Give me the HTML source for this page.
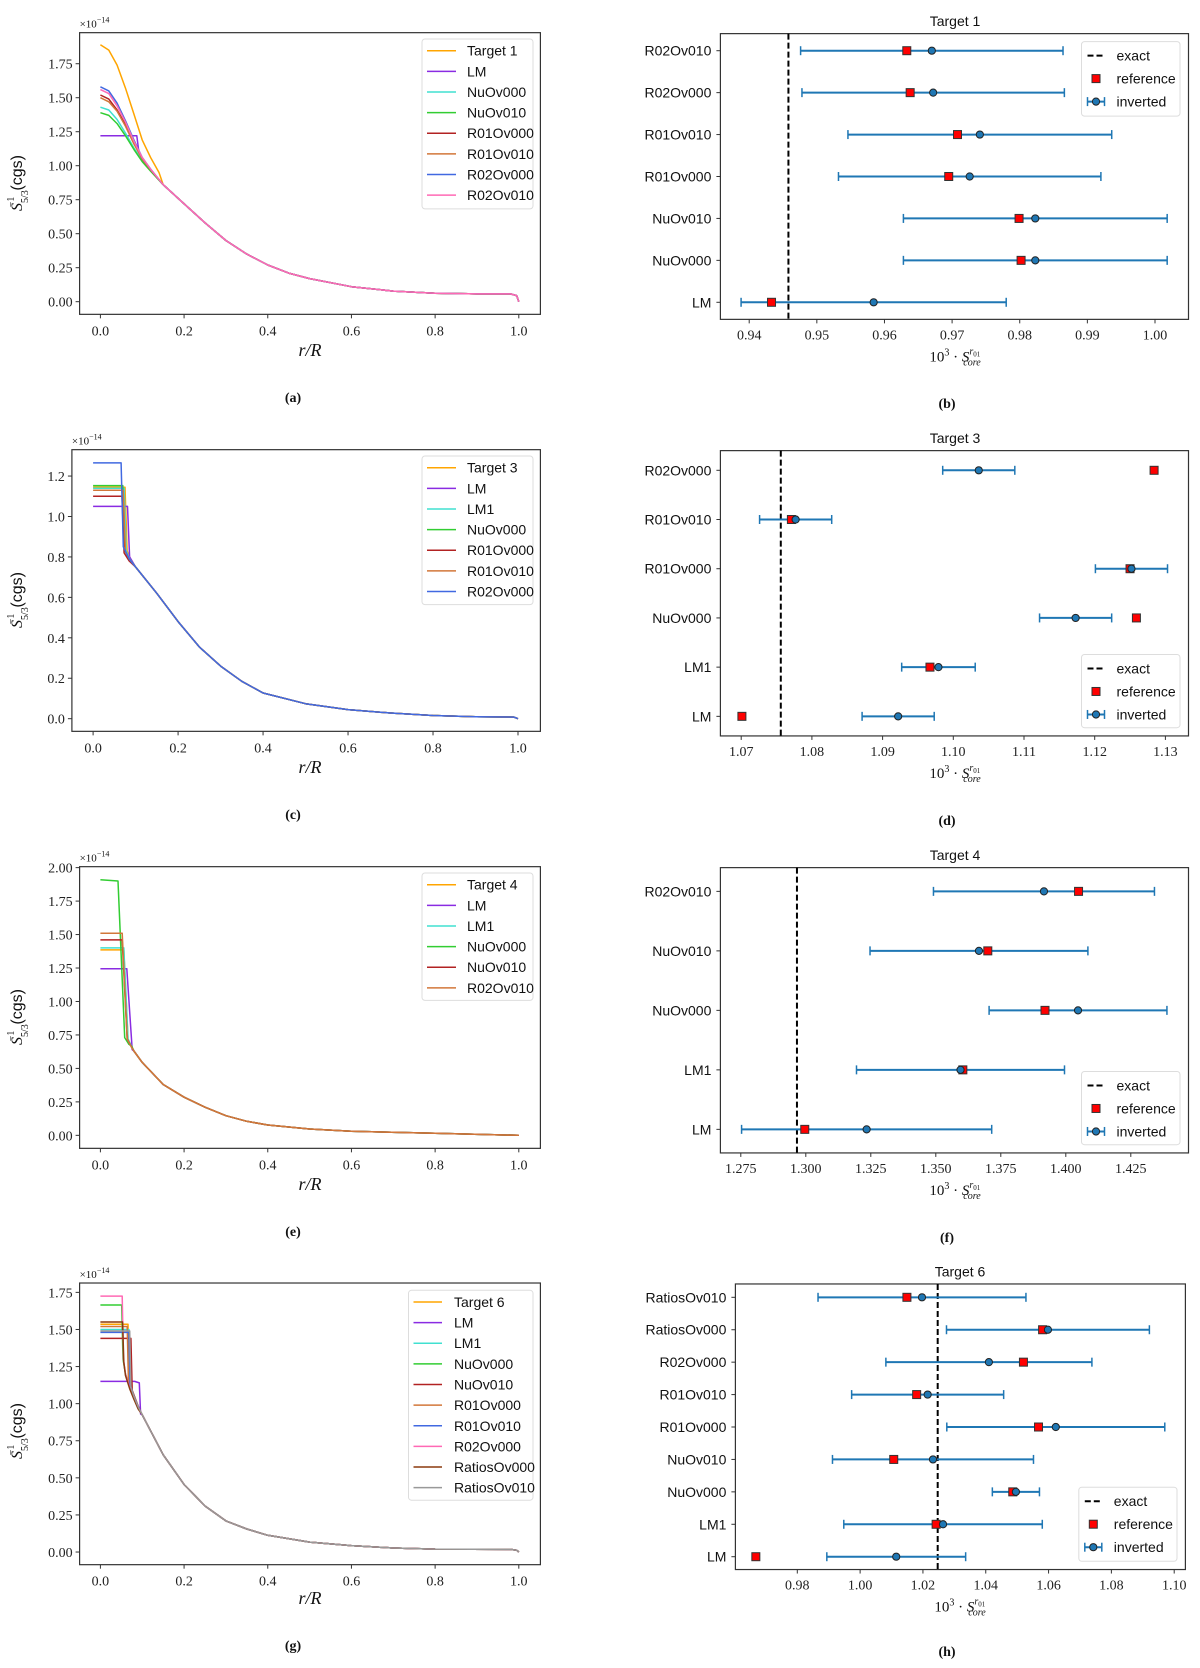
<!DOCTYPE html>
<html><head><meta charset="utf-8">
<style>
html,body{margin:0;padding:0;background:#fff;}
svg{display:block;}
.tick{font-family:"Liberation Serif",serif;font-size:14px;fill:#222;}
.sans{font-family:"Liberation Sans",sans-serif;font-size:14px;fill:#111;}
.lab{font-family:"Liberation Serif",serif;fill:#111;}
</style></head>
<body>
<svg id="fig" width="1200" height="1668" viewBox="0 0 1200 1668" xmlns="http://www.w3.org/2000/svg"></svg>
<script>
// ---------- Panel (a) data ----------
const aNames=['Target 1','LM','NuOv000','NuOv010','R01Ov000','R01Ov010','R02Ov000','R02Ov010'];
const aTailR=[0.15,0.2,0.25,0.3,0.35,0.4,0.45,0.5,0.6,0.7,0.8,0.9,0.98,0.995,1.0];
const aTailV=[0.86,0.72,0.58,0.45,0.35,0.27,0.21,0.17,0.11,0.078,0.062,0.057,0.057,0.045,0.0];
const aCoreR=[[0,0.02,0.04,0.06,0.08,0.10,0.12,0.14],[0,0.087,0.092,0.1,0.12],[0,0.02,0.04,0.06,0.08,0.10,0.12],[0,0.02,0.04,0.06,0.08,0.10,0.12],[0,0.02,0.04,0.06,0.08,0.10,0.12],[0,0.02,0.04,0.06,0.08,0.10,0.12],[0,0.02,0.04,0.06,0.08,0.10,0.12],[0,0.02,0.04,0.06,0.08,0.10,0.12]];
const aCoreV=[[1.89,1.85,1.74,1.57,1.38,1.19,1.06,0.95],[1.22,1.22,1.10,1.04,0.97],[1.43,1.41,1.34,1.24,1.13,1.04,0.965],[1.39,1.37,1.31,1.22,1.12,1.03,0.96],[1.52,1.49,1.41,1.30,1.17,1.05,0.97],[1.50,1.47,1.40,1.29,1.16,1.05,0.97],[1.58,1.55,1.46,1.33,1.19,1.06,0.975],[1.56,1.53,1.44,1.32,1.18,1.06,0.975]];
const aYTicks=[0,0.25,0.5,0.75,1.0,1.25,1.5,1.75];
const aYLabels=['0.00','0.25','0.50','0.75','1.00','1.25','1.50','1.75'];
// ---------- Panel (c) data ----------
const cNames=['Target 3','LM','LM1','NuOv000','R01Ov000','R01Ov010','R02Ov000'];
const cTailR=[0.1,0.15,0.2,0.25,0.3,0.35,0.4,0.5,0.6,0.7,0.8,0.9,0.99,1.0];
const cTailV=[0.75,0.62,0.48,0.355,0.26,0.185,0.127,0.074,0.045,0.028,0.016,0.01,0.008,0];
const cCoreR=[[0,0.075,0.08,0.088],[0,0.081,0.086],[0,0.073,0.078,0.086],[0,0.07,0.075,0.085],[0,0.068,0.073,0.085],[0,0.071,0.076,0.085],[0,0.066,0.071,0.085]];
const cCoreV=[[1.145,1.145,0.83,0.79],[1.05,1.05,0.80],[1.14,1.14,0.83,0.79],[1.153,1.153,0.83,0.79],[1.10,1.10,0.82,0.78],[1.13,1.13,0.83,0.79],[1.265,1.265,0.85,0.79]];
const cYTicks=[0,0.2,0.4,0.6,0.8,1.0,1.2];
const cYLabels=['0.0','0.2','0.4','0.6','0.8','1.0','1.2'];
// ---------- Panel (e) data ----------
const eNames=['Target 4','LM','LM1','NuOv000','NuOv010','R02Ov010'];
const eTailR=[0.08,0.1,0.15,0.2,0.25,0.3,0.35,0.4,0.5,0.6,0.8,1.0];
const eTailV=[0.63,0.545,0.38,0.285,0.21,0.147,0.105,0.077,0.047,0.03,0.015,0.0];
const eCoreR=[[0,0.056,0.066,0.075],[0,0.063,0.076],[0,0.056,0.066,0.075],[0,0.042,0.058,0.068,0.075],[0,0.052,0.064,0.075],[0,0.052,0.064,0.075]];
const eCoreV=[[1.385,1.385,0.72,0.66],[1.245,1.245,0.64],[1.40,1.40,0.72,0.66],[1.91,1.90,0.73,0.68,0.665],[1.46,1.46,0.72,0.655],[1.51,1.51,0.72,0.655]];
const eYTicks=[0,0.25,0.5,0.75,1.0,1.25,1.5,1.75,2.0];
const eYLabels=['0.00','0.25','0.50','0.75','1.00','1.25','1.50','1.75','2.00'];
// ---------- Panel (g) data ----------
const gNames=['Target 6','LM','LM1','NuOv000','NuOv010','R01Ov000','R01Ov010','R02Ov000','RatiosOv000','RatiosOv010'];
const gTailR=[0.1,0.15,0.2,0.25,0.3,0.35,0.4,0.5,0.6,0.7,0.8,0.98,0.995,1.0];
const gTailV=[0.925,0.655,0.455,0.31,0.21,0.155,0.113,0.067,0.043,0.027,0.02,0.018,0.012,0];
const gCoreR=[[0,0.066,0.069,0.08,0.09],[0,0.082,0.093,0.096],[0,0.068,0.071,0.08,0.09],[0,0.051,0.054,0.06,0.07,0.08,0.09],[0,0.073,0.076,0.09],[0,0.064,0.067,0.08,0.09],[0,0.068,0.071,0.08,0.09],[0,0.052,0.055,0.06,0.07,0.08,0.09],[0,0.053,0.056,0.06,0.07,0.08,0.09],[0,0.07,0.073,0.08,0.09]];
const gCoreV=[[1.535,1.535,1.15,1.05,0.98],[1.15,1.15,1.14,0.93],[1.50,1.50,1.13,1.05,0.98],[1.665,1.665,1.3,1.2,1.11,1.04,0.975],[1.44,1.44,1.09,0.985],[1.52,1.52,1.16,1.05,0.98],[1.48,1.48,1.13,1.05,0.98],[1.725,1.725,1.3,1.2,1.11,1.04,0.975],[1.55,1.55,1.28,1.19,1.1,1.03,0.965],[1.49,1.49,1.11,1.05,0.98]];
const gYTicks=[0,0.25,0.5,0.75,1.0,1.25,1.5,1.75];
const gYLabels=['0.00','0.25','0.50','0.75','1.00','1.25','1.50','1.75'];
const rTicks=[0,0.2,0.4,0.6,0.8,1.0];
const rLabels=['0.0','0.2','0.4','0.6','0.8','1.0'];
// ---------- Panel (b) data ----------
const bRows=['LM','NuOv000','NuOv010','R01Ov000','R01Ov010','R02Ov000','R02Ov010'];
const bRef=[0.9433,0.9802,0.9799,0.9695,0.9708,0.9638,0.9633];
const bInv=[0.9584,0.9823,0.9823,0.9726,0.9741,0.9672,0.9670];
const bErr=[0.0196,0.0195,0.0195,0.0194,0.0195,0.0194,0.0194];
const bExact=0.9458;
const bTicks=[0.94,0.95,0.96,0.97,0.98,0.99,1.00];
const bLabels=['0.94','0.95','0.96','0.97','0.98','0.99','1.00'];
// ---------- Panel (d) data ----------
const dRows=['LM','LM1','NuOv000','R01Ov000','R01Ov010','R02Ov000'];
const dRef=[1.0701,1.0967,1.1259,1.1250,1.0771,1.1284];
const dInv=[1.0922,1.0979,1.1173,1.1252,1.0777,1.1036];
const dErr=[0.0051,0.0052,0.0051,0.0051,0.0051,0.0051];
const dExact=1.0756;
const dTicks=[1.07,1.08,1.09,1.10,1.11,1.12,1.13];
const dLabels=['1.07','1.08','1.09','1.10','1.11','1.12','1.13'];
// ---------- Panel (f) data ----------
const fRows=['LM','LM1','NuOv000','NuOv010','R02Ov010'];
const fRef=[1.2996,1.3604,1.3920,1.3700,1.4049];
const fInv=[1.3234,1.3595,1.4047,1.3666,1.3916];
const fErr=[0.0481,0.0400,0.0342,0.0419,0.0425];
const fExact=1.2966;
const fTicks=[1.275,1.3,1.325,1.35,1.375,1.4,1.425];
const fLabels=['1.275','1.300','1.325','1.350','1.375','1.400','1.425'];
// ---------- Panel (h) data ----------
const hRows=['LM','LM1','NuOv000','NuOv010','R01Ov000','R01Ov010','R02Ov000','RatiosOv000','RatiosOv010'];
const hRef=[0.9668,1.0242,1.0486,1.0107,1.0568,1.0180,1.0520,1.0581,1.0149];
const hInv=[1.0115,1.0264,1.0496,1.0232,1.0623,1.0215,1.0410,1.0598,1.0197];
const hErr=[0.0221,0.0316,0.0075,0.0320,0.0347,0.0242,0.0328,0.0323,0.0331];
const hExact=1.0247;
const hTicks=[0.98,1.00,1.02,1.04,1.06,1.08,1.10];
const hLabels=['0.98','1.00','1.02','1.04','1.06','1.08','1.10'];

const colors=['#ffa500','#8a2be2','#40e0d0','#32cd32','#b22222','#d2773a','#4169e1','#ff69b4','#8b3a0f','#999999'];
const S=2.6/3; // vertical scale of layout constants
const NS='http://www.w3.org/2000/svg';
const svg=document.getElementById('fig');
function mk(tag,attrs,parent){const e=document.createElementNS(NS,tag);for(const k in attrs)e.setAttribute(k,attrs[k]);(parent||svg).appendChild(e);return e;}
function txt(s,attrs,parent){const e=mk('text',attrs,parent);e.textContent=s;return e;}

function leftPanel(cfg){
  const g=mk('g',{});
  
  
  const oy=cfg.oy;
  const X=r=>cfg.x0+r*cfg.xk;
  const Y=v=>oy+S*(cfg.y0-v*cfg.yk);
  const fy0=oy+S*cfg.fy0, fy1=oy+S*cfg.fy1;
  for(let i=0;i<cfg.names.length;i++){
    const R=cfg.coreR[i].concat(cfg.tailR), V=cfg.coreV[i].concat(cfg.tailV);
    const pts=R.map((r,j)=>X(r).toFixed(1)+','+Y(V[j]).toFixed(1)).join(' ');
    const pl=mk('polyline',{points:pts,fill:'none',stroke:colors[i],'stroke-width':1.5,'stroke-linejoin':'round'},g);
    
    
  }
  const fr=mk('rect',{x:cfg.fx0,y:fy0,width:cfg.fx1-cfg.fx0,height:fy1-fy0,fill:'none',stroke:'#333','stroke-width':1.2},g);
  
  
  cfg.yt.forEach((v,i)=>{
    mk('line',{x1:cfg.fx0-4,x2:cfg.fx0,y1:Y(v),y2:Y(v),stroke:'#333','stroke-width':1},g);
    const t=txt(cfg.yl[i],{x:cfg.fx0-7,y:Y(v)+5,'text-anchor':'end',class:'tick'},g);
    
    
  });
  rTicks.forEach((r,i)=>{
    mk('line',{x1:X(r),x2:X(r),y1:fy1,y2:fy1+4,stroke:'#333','stroke-width':1},g);
    const t=txt(rLabels[i],{x:X(r),y:fy1+21,'text-anchor':'middle',class:'tick'},g);
    
    
  });
  const off=txt('',{x:cfg.fx0,y:fy0-5,class:'lab','font-size':'11'},g);
  off.innerHTML='×10<tspan dy="-5" font-size="8">−14</tspan>';
  
  
  const yl=txt('',{transform:`translate(22,${oy+183}) rotate(-90)`,'text-anchor':'middle',class:'lab','font-size':'16'},g);
  yl.innerHTML='<tspan font-style="italic">S</tspan><tspan dy="6" font-size="10">5/3</tspan><tspan dy="-14" dx="-17" font-size="10">−1</tspan><tspan dy="8" dx="6" font-family="Liberation Sans, sans-serif">(cgs)</tspan>';
  
  
  const xl=txt('r/R',{x:310,y:oy+356,'text-anchor':'middle',class:'lab','font-size':'18','font-style':'italic'},g);
  
  
  const L=cfg.leg;
  const lg=mk('g',{},g);
  
  
  mk('rect',{x:L.x0,y:oy+S*L.y0,width:L.x1-L.x0,height:S*(L.y1-L.y0),rx:3,fill:'#fff',stroke:'#ddd','stroke-width':1},lg);
  cfg.names.forEach((n,i)=>{
    const yy=oy+S*(L.e0+i*23.8);
    mk('line',{x1:L.h0,x2:L.h1,y1:yy,y2:yy,stroke:colors[i],'stroke-width':1.5},lg);
    const t=txt(n,{x:L.tx,y:yy+5,class:'sans','font-size':'13.5'},lg);
    
    
  });
  const pl=txt(cfg.label,{x:293,y:oy+402,'text-anchor':'middle',class:'lab','font-size':'14','font-weight':'bold'},g);
  
  
}

function rightPanel(cfg){
  const g=mk('g',{});
  
  
  const oy=cfg.oy;
  const X=v=>cfg.xa+(v-cfg.va)*(cfg.xb-cfg.xa)/(cfg.vb-cfg.va);
  const n=cfg.rows.length;
  const Yr=i=>oy+S*(cfg.yBot-i*(cfg.yBot-cfg.yTop)/(n-1));
  const fy0=oy+S*cfg.fy0, fy1=oy+S*cfg.fy1;
  mk('rect',{x:cfg.fx0,y:fy0,width:cfg.fx1-cfg.fx0,height:fy1-fy0,fill:'none',stroke:'#333','stroke-width':1.2},g);
  const ex=mk('line',{x1:X(cfg.exact),x2:X(cfg.exact),y1:fy0,y2:fy1,stroke:'#000','stroke-width':2,'stroke-dasharray':'6,3'},g);
  
  
  cfg.rows.forEach((r,i)=>{
    const y=Yr(i);
    mk('line',{x1:cfg.fx0-4,x2:cfg.fx0,y1:y,y2:y,stroke:'#333','stroke-width':1},g);
    const t=txt(r,{x:cfg.fx0-9,y:y+5,'text-anchor':'end',class:'sans'},g);
    
    
    const lo=X(cfg.inv[i]-cfg.err[i]), hi=X(cfg.inv[i]+cfg.err[i]);
    const eb=mk('g',{},g);
    
    
    mk('line',{x1:lo,x2:hi,y1:y,y2:y,stroke:'#1f77b4','stroke-width':2},eb);
    mk('line',{x1:lo,x2:lo,y1:y-4.5,y2:y+4.5,stroke:'#1f77b4','stroke-width':1.5},eb);
    mk('line',{x1:hi,x2:hi,y1:y-4.5,y2:y+4.5,stroke:'#1f77b4','stroke-width':1.5},eb);
    const sq=mk('rect',{x:X(cfg.ref[i])-4,y:y-4,width:8,height:8,fill:'#f00',stroke:'#333','stroke-width':1},g);
    
    
    const c=mk('circle',{cx:X(cfg.inv[i]),cy:y,r:3.6,fill:'#1f77b4',stroke:'#222','stroke-width':1},g);
    
    
  });
  cfg.ticks.forEach((v,i)=>{
    mk('line',{x1:X(v),x2:X(v),y1:fy1,y2:fy1+4,stroke:'#333','stroke-width':1},g);
    const t=txt(cfg.labels[i],{x:X(v),y:fy1+20,'text-anchor':'middle',class:'tick'},g);
    
    
  });
  const tt=txt(cfg.title,{x:cfg.tx,y:oy+S*cfg.ty,'text-anchor':'middle',class:'sans','font-size':'15'},g);
  
  
  const xl=txt('',{x:cfg.tx,y:fy1+42,'text-anchor':'middle',class:'lab','font-size':'15'},g);
  xl.innerHTML='10<tspan dy="-6" font-size="10">3</tspan><tspan dy="6"> · </tspan><tspan font-style="italic">S</tspan><tspan dy="-7" font-size="10" font-style="italic">r</tspan><tspan dy="2" font-size="7">01</tspan><tspan dy="9" dx="-17" font-size="10" font-style="italic">core</tspan>';
  
  
  const L=cfg.leg;
  const lg=mk('g',{},g);
  
  
  const ly0=oy+S*L.y0, ly1=oy+S*L.y1;
  mk('rect',{x:L.x0,y:ly0,width:L.x1-L.x0,height:ly1-ly0,rx:3,fill:'#fff','fill-opacity':0.85,stroke:'#ddd','stroke-width':1},lg);
  const hx=L.x0+6, hx2=hx+17, tx=L.x0+35, e0=ly0+14, sp=23;
  mk('line',{x1:hx,x2:hx2,y1:e0,y2:e0,stroke:'#000','stroke-width':2,'stroke-dasharray':'6,3'},lg);
  txt('exact',{x:tx,y:e0+5,class:'sans'},lg);
  mk('rect',{x:(hx+hx2)/2-4,y:e0+sp-4,width:8,height:8,fill:'#f00',stroke:'#333','stroke-width':1},lg);
  txt('reference',{x:tx,y:e0+sp+5,class:'sans'},lg);
  mk('line',{x1:hx,x2:hx2,y1:e0+2*sp,y2:e0+2*sp,stroke:'#1f77b4','stroke-width':2},lg);
  mk('line',{x1:hx,x2:hx,y1:e0+2*sp-4.5,y2:e0+2*sp+4.5,stroke:'#1f77b4','stroke-width':1.5},lg);
  mk('line',{x1:hx2,x2:hx2,y1:e0+2*sp-4.5,y2:e0+2*sp+4.5,stroke:'#1f77b4','stroke-width':1.5},lg);
  mk('circle',{cx:(hx+hx2)/2,cy:e0+2*sp,r:3.6,fill:'#1f77b4',stroke:'#222','stroke-width':1},lg);
  txt('inverted',{x:tx,y:e0+2*sp+5,class:'sans'},lg);
  const pl=txt(cfg.label,{x:947,y:oy+408,'text-anchor':'middle',class:'lab','font-size':'14','font-weight':'bold'},g);
  
  
}

const legA={x0:422,x1:533,y0:45,e0:58.5,h0:427,h1:456,tx:467};
leftPanel({name:'panel-a-profile',label:'(a)',oy:0,names:aNames,tailR:aTailR,tailV:aTailV,coreR:aCoreR,coreV:aCoreV,yt:aYTicks,yl:aYLabels,
  x0:100.4,xk:418.4,y0:348.1,yk:156.9,fx0:79.6,fx1:540.4,fy0:37.7,fy1:362.7,leg:Object.assign({},legA,{y1:241})});
leftPanel({name:'panel-c-profile',label:'(c)',oy:417,names:cNames,tailR:cTailR,tailV:cTailV,coreR:cCoreR,coreV:cCoreV,yt:cYTicks,yl:cYLabels,
  x0:93.1,xk:424.9,y0:348.1,yk:233.3,fx0:71.9,fx1:540.4,fy0:37.7,fy1:362.7,leg:Object.assign({},legA,{y1:216.5})});
leftPanel({name:'panel-e-profile',label:'(e)',oy:834,names:eNames,tailR:eTailR,tailV:eTailV,coreR:eCoreR,coreV:eCoreV,yt:eYTicks,yl:eYLabels,
  x0:100.4,xk:418.4,y0:347.7,yk:154.45,fx0:79.6,fx1:540.4,fy0:37.7,fy1:362.7,leg:Object.assign({},legA,{y1:192})});
leftPanel({name:'panel-g-profile',label:'(g)',oy:1248,names:gNames,tailR:gTailR,tailV:gTailV,coreR:gCoreR,coreV:gCoreV,yt:gYTicks,yl:gYLabels,
  x0:100.4,xk:418.4,y0:350.8,yk:171.2,fx0:79.6,fx1:540.4,fy0:40.4,fy1:365.4,leg:{x0:408.5,x1:533,y0:48.8,y1:291,e0:62.3,h0:413.5,h1:442,tx:454}});

rightPanel({name:'panel-b-target-1',label:'(b)',title:'Target 1',oy:0,rows:bRows,ref:bRef,inv:bInv,err:bErr,exact:bExact,ticks:bTicks,labels:bLabels,
  xa:749.2,va:0.94,xb:1155,vb:1.00,yTop:58.5,yBot:348.8,fx0:720.4,fx1:1188.5,fy0:38.8,fy1:368.5,tx:955,ty:30,leg:{x0:1081.5,x1:1180,y0:48,y1:134}});
rightPanel({name:'panel-d-target-3',label:'(d)',title:'Target 3',oy:417,rows:dRows,ref:dRef,inv:dInv,err:dErr,exact:dExact,ticks:dTicks,labels:dLabels,
  xa:741.2,va:1.07,xb:1165.4,vb:1.13,yTop:61.5,yBot:345.4,fx0:720.4,fx1:1188.5,fy0:38.8,fy1:368,tx:955,ty:30,leg:{x0:1081.5,x1:1180,y0:274,y1:358.5}});
rightPanel({name:'panel-f-target-4',label:'(f)',title:'Target 4',oy:834,rows:fRows,ref:fRef,inv:fInv,err:fErr,exact:fExact,ticks:fTicks,labels:fLabels,
  xa:740.8,va:1.275,xb:1130.8,vb:1.425,yTop:66.2,yBot:340.8,fx0:720.4,fx1:1188.5,fy0:38.8,fy1:368,tx:955,ty:30,leg:{x0:1081.5,x1:1180,y0:274,y1:358.5}});
rightPanel({name:'panel-h-target-6',label:'(h)',title:'Target 6',oy:1248,rows:hRows,ref:hRef,inv:hInv,err:hErr,exact:hExact,ticks:hTicks,labels:hLabels,
  xa:797.3,va:0.98,xb:1174.2,vb:1.10,yTop:56.9,yBot:356.2,fx0:735.4,fx1:1185.4,fy0:41.5,fy1:371,tx:960,ty:33,leg:{x0:1078.8,x1:1177,y0:276,y1:361.5}});
</script>
</body></html>
